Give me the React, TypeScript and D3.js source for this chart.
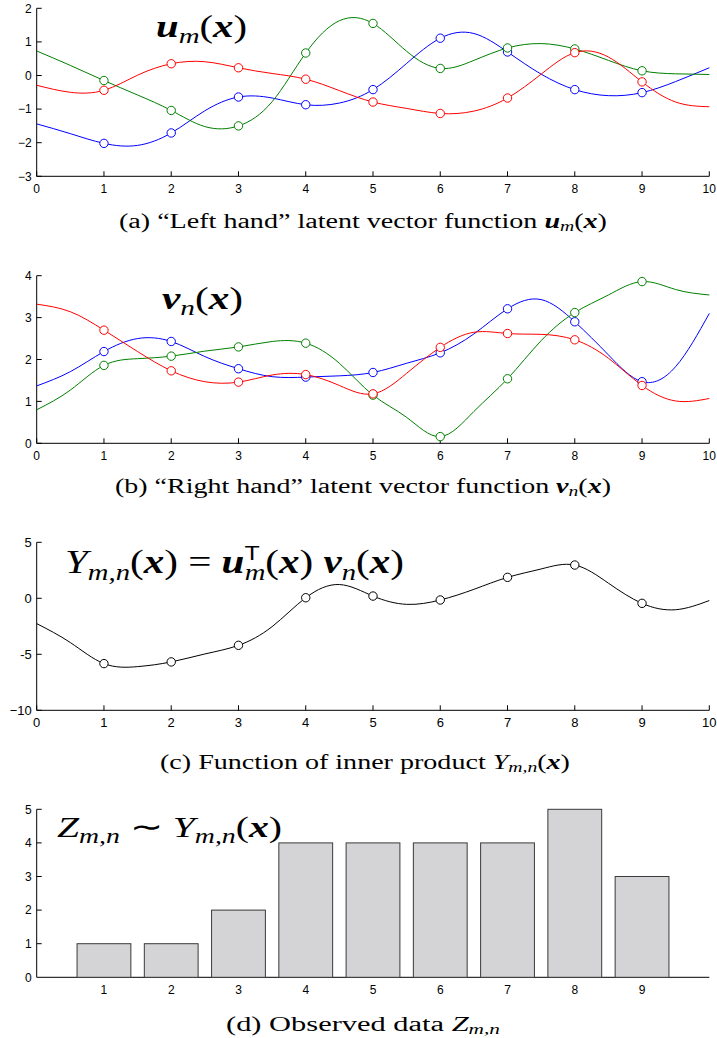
import React from 'react';
import * as d3 from 'd3';

// ---------- data ----------
const xGrid = [0, 0.5, 1, 1.5, 2, 2.5, 3, 3.5, 4, 4.5, 5, 5.5, 6, 6.5, 7, 7.5, 8, 8.5, 9, 9.5, 10];
const markerX = [1, 2, 3, 4, 5, 6, 7, 8, 9];

// (a) left-hand latent functions u_m(x)
const uBlue = [-1.44, -1.73, -2.02, -2.08, -1.71, -1.05, -0.64, -0.67, -0.87, -0.82, -0.42, 0.36, 1.11, 1.25, 0.70, 0.04, -0.42, -0.60, -0.51, -0.18, 0.23];
const uGreen = [0.73, 0.30, -0.15, -0.58, -1.04, -1.52, -1.50, -0.78, 0.67, 1.63, 1.55, 0.72, 0.21, 0.45, 0.82, 0.95, 0.79, 0.45, 0.14, 0.05, 0.03];
const uRed = [-0.29, -0.50, -0.44, 0.01, 0.35, 0.41, 0.23, 0.06, -0.11, -0.45, -0.79, -0.98, -1.13, -1.06, -0.67, 0.04, 0.68, 0.55, -0.19, -0.79, -0.93];

// (b) right-hand latent functions v_n(x)
const vBlue = [1.37, 1.71, 2.19, 2.50, 2.43, 2.07, 1.78, 1.59, 1.58, 1.61, 1.69, 1.91, 2.16, 2.61, 3.21, 3.43, 2.90, 2.11, 1.47, 1.83, 3.10];
const vGreen = [0.80, 1.27, 1.86, 2.02, 2.08, 2.20, 2.30, 2.43, 2.39, 1.91, 1.15, 0.62, 0.16, 0.76, 1.54, 2.45, 3.12, 3.54, 3.86, 3.67, 3.54];
const vRed = [3.32, 3.14, 2.70, 2.19, 1.73, 1.47, 1.46, 1.63, 1.64, 1.38, 1.18, 1.67, 2.29, 2.65, 2.62, 2.60, 2.47, 2.03, 1.38, 1.01, 1.07];

// (c) inner product Y_{m,n}(x)
const yInner = [-2.26, -3.95, -5.83, -6.10, -5.68, -4.97, -4.20, -2.53, 0.05, 1.23, 0.20, -0.54, -0.15, 0.80, 1.87, 2.62, 2.97, 1.35, -0.45, -1.02, -0.20];

// (d) observed counts
const zCategories = [1, 2, 3, 4, 5, 6, 7, 8, 9];
const zCounts = [1, 1, 2, 4, 4, 4, 4, 5, 3];

// ticks
const xTicks = [0, 1, 2, 3, 4, 5, 6, 7, 8, 9, 10];
const uTicks = [-3, -2, -1, 0, 1, 2];
const uTickLabels = ['\u22123', '\u22122', '\u22121', '0', '1', '2'];
const vTicks = [0, 1, 2, 3, 4];
const vTickLabels = ['0', '1', '2', '3', '4'];
const yTicks = [-10, -5, 0, 5];
const yTickLabels = ['\u221210', '-5', '0', '5'];
const zTicks = [0, 1, 2, 3, 4, 5];
const zTickLabels = ['0', '1', '2', '3', '4', '5'];

// ---------- layout ----------
const W = 717;
const H = 1038;
const X0 = 36.7;
const X1 = 709.3;
const x = d3.scaleLinear().domain([0, 10]).range([X0, X1]);

const SERIF = "'Liberation Serif', 'Times New Roman', serif";
const SANS = "'Liberation Sans', Arial, Helvetica, sans-serif";
const NARROW = "'Liberation Sans Narrow', 'Arial Narrow', 'Liberation Sans', sans-serif";

const BLUE = '#0000ff';
const GREEN = '#008000';
const RED = '#ff0000';

type Series = { values: number[]; color: string };

function Axes({ y, ticks, labels, font, fontSize, showXTicks = true, xLabelDy = 12, xLabels = xTicks }: any) {
  const [ymin] = y.domain();
  const base = y(ymin);
  const top = y(y.domain()[1]);
  return (
    <g>
      <line x1={X0} x2={X0} y1={top} y2={base} stroke="#000" strokeWidth={1} />
      <line x1={X0} x2={X1} y1={base} y2={base} stroke="#000" strokeWidth={1} />
      {ticks.map((t: number, i: number) => (
        <g key={'y' + t}>
          <line x1={X0} x2={X0 + 5} y1={y(t)} y2={y(t)} stroke="#000" strokeWidth={1} />
          <text x={X0 - 5} y={y(t)} dy="0.36em" textAnchor="end" fontFamily={font} fontSize={fontSize} fill="#000">
            {labels[i]}
          </text>
        </g>
      ))}
      {showXTicks &&
        xTicks.map((t: number) => (
          <line key={'xt' + t} x1={x(t)} x2={x(t)} y1={base} y2={base - 5} stroke="#000" strokeWidth={1} />
        ))}
      {xLabels.map((t: number) => (
        <text key={'xl' + t} x={x(t)} y={base + xLabelDy} dy="0.36em" textAnchor="middle" fontFamily={font} fontSize={fontSize} fill="#000">
          {t}
        </text>
      ))}
    </g>
  );
}

function Curves({ y, series, r = 4.2 }: { y: any; series: Series[]; r?: number }) {
  const line = d3
    .line<number>()
    .x((_, i) => x(xGrid[i]))
    .y((d) => y(d))
    .curve(d3.curveNatural);
  return (
    <g>
      {series.map((s, k) => (
        <g key={k}>
          <path d={line(s.values) || ''} fill="none" stroke={s.color} strokeWidth={1} />
          {markerX.map((mx) => {
            const idx = xGrid.indexOf(mx);
            return <circle key={mx} cx={x(mx)} cy={y(s.values[idx])} r={r} fill="#fff" stroke={s.color} strokeWidth={1} />;
          })}
        </g>
      ))}
    </g>
  );
}

const BI = { fontWeight: 'bold', fontStyle: 'italic' } as const;

export default function App() {
  const yA = d3.scaleLinear().domain([-3, 2]).range([176.3, 8.3]);
  const yB = d3.scaleLinear().domain([0, 4]).range([443.3, 275.7]);
  const yC = d3.scaleLinear().domain([-10, 5]).range([710.3, 542.3]);
  const yD = d3.scaleLinear().domain([0, 5]).range([977.3, 809.3]);

  return (
    <svg width={W} height={H} style={{ position: 'absolute', left: 0, top: 0, background: '#fff' }}>
      <rect x={0} y={0} width={W} height={H} fill="#fff" />

      {/* ---------- (a) ---------- */}
      <Axes y={yA} ticks={uTicks} labels={uTickLabels} font={SANS} fontSize={12} />
      <Curves
        y={yA}
        series={[
          { values: uBlue, color: BLUE },
          { values: uGreen, color: GREEN },
          { values: uRed, color: RED },
        ]}
      />
      <text x={156} y={37} fontFamily={SERIF} fontSize={31} textLength={91} lengthAdjust="spacingAndGlyphs">
        <tspan {...BI}>u</tspan>
        <tspan fontStyle="italic" fontSize={22} dy={6}>m</tspan>
        <tspan dy={-6}>(</tspan>
        <tspan {...BI}>x</tspan>
        <tspan>)</tspan>
      </text>
      <text x={363} y={228} textAnchor="middle" fontFamily={SERIF} fontSize={20} textLength={488} lengthAdjust="spacingAndGlyphs">
        <tspan>(a) “Left hand” latent vector function </tspan>
        <tspan {...BI}>u</tspan>
        <tspan fontStyle="italic" fontSize={14} dy={3}>m</tspan>
        <tspan dy={-3}>(</tspan>
        <tspan {...BI}>x</tspan>
        <tspan>)</tspan>
      </text>

      {/* ---------- (b) ---------- */}
      <Axes y={yB} ticks={vTicks} labels={vTickLabels} font={SANS} fontSize={12} />
      <Curves
        y={yB}
        series={[
          { values: vBlue, color: BLUE },
          { values: vGreen, color: GREEN },
          { values: vRed, color: RED },
        ]}
      />
      <text x={162} y={309} fontFamily={SERIF} fontSize={31} textLength={81} lengthAdjust="spacingAndGlyphs">
        <tspan {...BI}>v</tspan>
        <tspan fontStyle="italic" fontSize={22} dy={6}>n</tspan>
        <tspan dy={-6}>(</tspan>
        <tspan {...BI}>x</tspan>
        <tspan>)</tspan>
      </text>
      <text x={363} y={493} textAnchor="middle" fontFamily={SERIF} fontSize={20} textLength={496} lengthAdjust="spacingAndGlyphs">
        <tspan>(b) “Right hand” latent vector function </tspan>
        <tspan {...BI}>v</tspan>
        <tspan fontStyle="italic" fontSize={14} dy={3}>n</tspan>
        <tspan dy={-3}>(</tspan>
        <tspan {...BI}>x</tspan>
        <tspan>)</tspan>
      </text>

      {/* ---------- (c) ---------- */}
      <Axes y={yC} ticks={yTicks} labels={yTickLabels} font={NARROW} fontSize={13} />
      <Curves y={yC} series={[{ values: yInner, color: '#000' }]} r={4.2} />
      <text x={65} y={573} fontFamily={SERIF} fontSize={33} textLength={339} lengthAdjust="spacingAndGlyphs">
        <tspan fontStyle="italic">Y</tspan>
        <tspan fontStyle="italic" fontSize={23} dy={7}>m,n</tspan>
        <tspan dy={-7}>(</tspan>
        <tspan {...BI}>x</tspan>
        <tspan>) = </tspan>
        <tspan {...BI}>u</tspan>
        <tspan fontFamily={SANS} fontSize={20} dy={-13}>T</tspan>
        <tspan fontStyle="italic" fontSize={23} dx={-12} dy={20}>m</tspan>
        <tspan dy={-7}>(</tspan>
        <tspan {...BI}>x</tspan>
        <tspan>) </tspan>
        <tspan {...BI}>v</tspan>
        <tspan fontStyle="italic" fontSize={23} dy={7}>n</tspan>
        <tspan dy={-7}>(</tspan>
        <tspan {...BI}>x</tspan>
        <tspan>)</tspan>
      </text>
      <text x={365} y={769} textAnchor="middle" fontFamily={SERIF} fontSize={20} textLength={410} lengthAdjust="spacingAndGlyphs">
        <tspan>(c) Function of inner product </tspan>
        <tspan fontStyle="italic">Y</tspan>
        <tspan fontStyle="italic" fontSize={14} dy={3}>m,n</tspan>
        <tspan dy={-3}>(</tspan>
        <tspan {...BI}>x</tspan>
        <tspan>)</tspan>
      </text>

      {/* ---------- (d) ---------- */}
      <Axes y={yD} ticks={zTicks.filter((t) => t > 0)} labels={zTickLabels.slice(1)} font={NARROW} fontSize={12} showXTicks={false} xLabels={[]} />
      <text x={X0 - 5} y={yD(0)} dy="0.36em" textAnchor="end" fontFamily={NARROW} fontSize={12}>
        {zTickLabels[0]}
      </text>
      {zCategories.map((c, i) => (
        <rect
          key={c}
          x={x(c - 0.4)}
          y={yD(zCounts[i])}
          width={x(c + 0.4) - x(c - 0.4)}
          height={yD(0) - yD(zCounts[i])}
          fill="#d4d4d6"
          stroke="#3a3a3a"
          strokeWidth={1}
        />
      ))}
      {zCategories.map((c) => (
        <text key={'zl' + c} x={x(c)} y={990} dy="0.36em" textAnchor="middle" fontFamily={NARROW} fontSize={12}>
          {c}
        </text>
      ))}
      <text x={57} y={837} fontFamily={SERIF} fontSize={30} textLength={225} lengthAdjust="spacingAndGlyphs">
        <tspan fontStyle="italic">Z</tspan>
        <tspan fontStyle="italic" fontSize={21} dy={6}>m,n</tspan>
        <tspan dy={-6}> ∼ </tspan>
        <tspan fontStyle="italic">Y</tspan>
        <tspan fontStyle="italic" fontSize={21} dy={6}>m,n</tspan>
        <tspan dy={-6}>(</tspan>
        <tspan {...BI}>x</tspan>
        <tspan>)</tspan>
      </text>
      <text x={363} y={1031} textAnchor="middle" fontFamily={SERIF} fontSize={20} textLength={274} lengthAdjust="spacingAndGlyphs">
        <tspan>(d) Observed data </tspan>
        <tspan fontStyle="italic">Z</tspan>
        <tspan fontStyle="italic" fontSize={14} dy={3}>m,n</tspan>
      </text>
    </svg>
  );
}
